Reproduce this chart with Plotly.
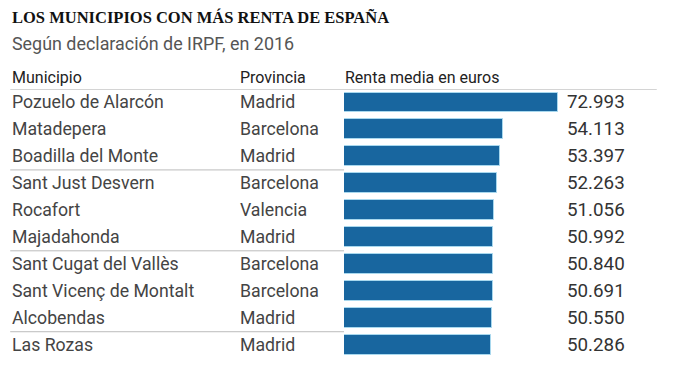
import plotly.graph_objects as go

municipios = ["Pozuelo de Alarcón", "Matadepera", "Boadilla del Monte", "Sant Just Desvern",
              "Rocafort", "Majadahonda", "Sant Cugat del Vallès", "Sant Vicenç de Montalt",
              "Alcobendas", "Las Rozas"]
provincias = ["Madrid", "Barcelona", "Madrid", "Barcelona", "Valencia", "Madrid",
              "Barcelona", "Barcelona", "Madrid", "Madrid"]
renta = [72993, 54113, 53397, 52263, 51056, 50992, 50840, 50691, 50550, 50286]
etiquetas = ["72.993", "54.113", "53.397", "52.263", "51.056", "50.992",
             "50.840", "50.691", "50.550", "50.286"]
separadores = [2.5, 5.5, 8.5]

OFF = 8  # page body margin
W, H = 696 - 2 * OFF, 365 - 2 * OFF
ROW = 27
L = 344 - OFF
T = 88.5 - OFF
YR = [-0.5, 9.4]
PH = ROW * (YR[1] - YR[0])
B = H - T - PH
PW = 293.2
R = W - L - PW
XMAX = 100000

def px_x(px):
    return (px - OFF - L) / PW

def px_y(py):
    return (T + PH - (py - OFF)) / PH

BODY = "Roboto"
fig = go.Figure(go.Bar(
    x=renta, y=municipios, orientation="h", width=0.74,
    marker=dict(color="#18669f", line=dict(color="#a8d8ee", width=1)),
    hoverinfo="skip",
))

ann = []
ann.append(dict(text="<b>LOS MUNICIPIOS CON MÁS RENTA DE ESPAÑA</b>", xref="paper", yref="paper",
                x=px_x(10), y=px_y(17), xanchor="left", yanchor="middle", showarrow=False,
                font=dict(family="Liberation Serif", size=16.5, color="#111")))
ann.append(dict(text="Según declaración de IRPF, en 2016", xref="paper", yref="paper",
                x=px_x(10), y=px_y(43), xanchor="left", yanchor="middle", showarrow=False,
                font=dict(family=BODY, size=17.9, color="#555")))
for txt, px in [("Municipio", 10), ("Provincia", 238), ("Renta media en euros", 343)]:
    ann.append(dict(text=txt, xref="paper", yref="paper", x=px_x(px), y=px_y(77),
                    xanchor="left", yanchor="middle", showarrow=False,
                    font=dict(family=BODY, size=16, color="#222")))
for m, p, e in zip(municipios, provincias, etiquetas):
    ann.append(dict(text=m, xref="paper", yref="y", x=px_x(10), y=m, xanchor="left",
                    yanchor="middle", showarrow=False, font=dict(family=BODY, size=17.7, color="#444")))
    ann.append(dict(text=p, xref="paper", yref="y", x=px_x(238), y=m, xanchor="left",
                    yanchor="middle", showarrow=False, font=dict(family=BODY, size=17.7, color="#444")))
    ann.append(dict(text=e, xref="paper", yref="y", x=px_x(565), y=m, xanchor="left",
                    yanchor="middle", showarrow=False, font=dict(family=BODY, size=18.8, color="#333")))

shapes = [dict(type="line", xref="paper", yref="y", x0=px_x(10), x1=px_x(657), y0=-0.5, y1=-0.5,
               line=dict(color="#aaa", width=1))]
for s in separadores:
    shapes.append(dict(type="line", xref="paper", yref="y", x0=px_x(10), x1=px_x(344), y0=s, y1=s,
                       line=dict(color="#bbb", width=1)))

fig.update_layout(
    width=W, height=H, margin=dict(l=L, r=R, t=T, b=B, autoexpand=False),
    paper_bgcolor="white", plot_bgcolor="white", showlegend=False,
    xaxis=dict(range=[0, XMAX], visible=False, fixedrange=True),
    yaxis=dict(range=[YR[1], YR[0]], visible=False, type="category",
               categoryorder="array", categoryarray=municipios),
    annotations=ann, shapes=shapes, bargap=0,
)
fig.write_html("out.html", config={"displayModeBar": False})
